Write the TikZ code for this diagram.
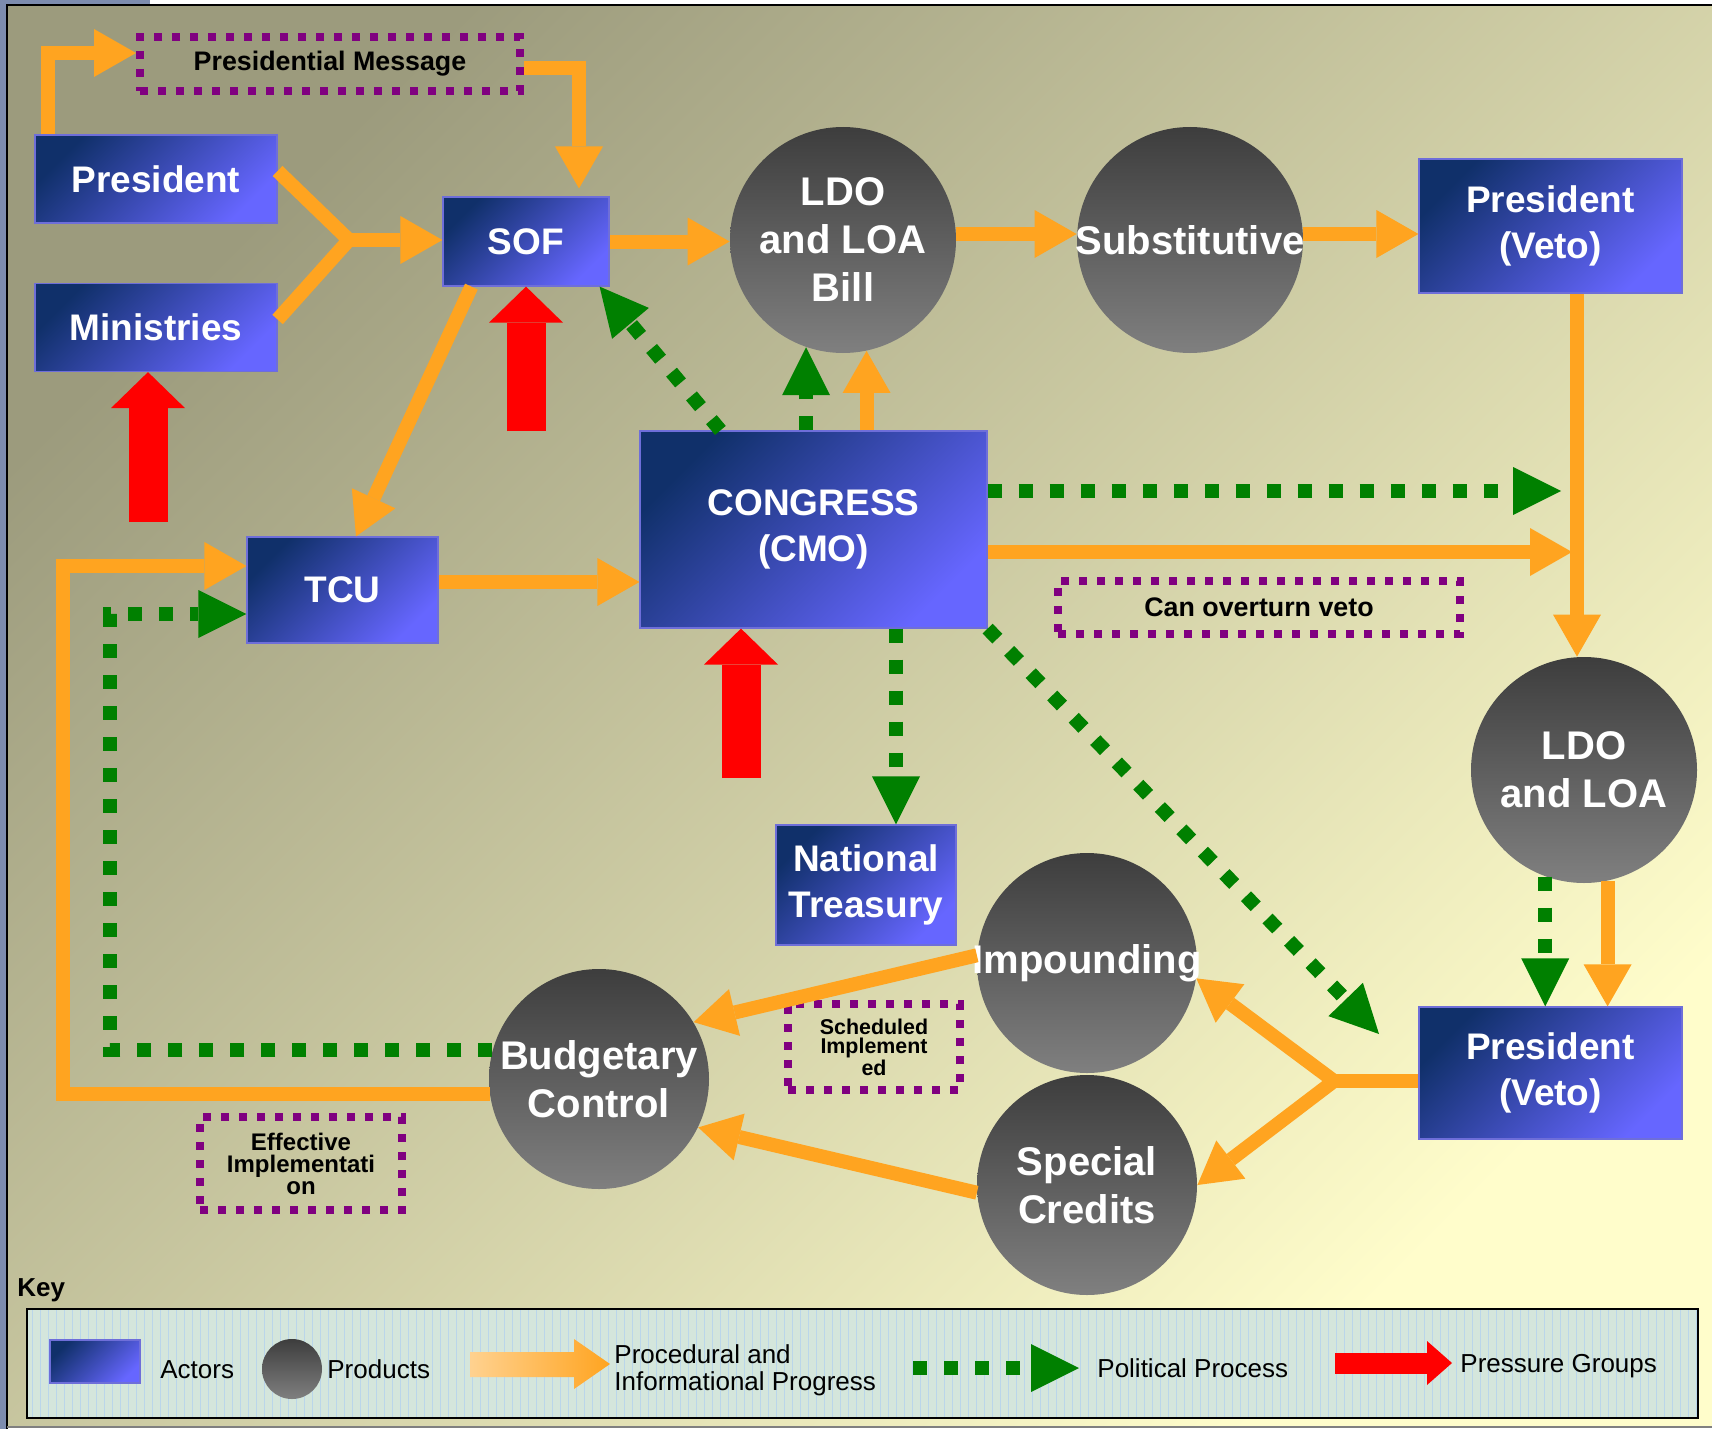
\documentclass[tikz,border=0pt]{standalone}
\usepackage{fontspec}
\setmainfont{Liberation Sans}
\usetikzlibrary{arrows.meta}

\definecolor{actorDark}{HTML}{10306A}
\definecolor{actorLight}{HTML}{6666FF}
\definecolor{procOrange}{HTML}{FFA420}
\definecolor{politGreen}{HTML}{008000}
\definecolor{pressRed}{HTML}{FF0000}
\definecolor{notePurple}{HTML}{800080}
\definecolor{bgDark}{HTML}{9C9B7D}
\definecolor{bgLight}{HTML}{FFFDCB}
\definecolor{keyFill}{HTML}{D4E6DC}
\definecolor{keyGrid}{HTML}{BAD6EA}
\definecolor{frameBlue}{HTML}{7D8CAE}

\begin{document}
\begin{tikzpicture}[x=0.5pt, y=-0.5pt,
  actor/.style={rectangle, inner sep=0pt, top color=actorDark, bottom color=actorLight, shading angle=45, draw=actorLight!70!gray, line width=0.6pt, text=white, align=center, font=\bfseries\fontsize{18.5}{23}\selectfont},
  prod/.style={circle, inner sep=0pt, minimum size=111pt, top color=black!76, bottom color=black!50},
  ptxt/.style={text=white, align=center, font=\bfseries\fontsize{20}{24}\selectfont},
  note/.style={draw=notePurple, line width=4pt, dash pattern=on 4pt off 5pt, inner sep=0pt, align=center, font=\bfseries\fontsize{13.4}{16}\selectfont},
  proc/.style={draw=procOrange, line width=7pt, >={Triangle[length=21pt,width=24pt,line width=0pt]}, ->},
  polit/.style={draw=politGreen, line width=7pt, dash pattern=on 7pt off 8.5pt, >={Triangle[length=24pt,width=24pt,line width=0pt]}, ->},
  press/.style={draw=pressRed, line width=19.5pt, >={Triangle[length=18pt,width=37pt,line width=0pt]}, ->},
  keytxt/.style={anchor=west, inner sep=0pt, font=\fontsize{13}{15}\selectfont}]

\useasboundingbox (0,0) rectangle (1712,1429);
% frame and background
\fill[white] (0,0) rectangle (1712,1429);
\fill[frameBlue] (0,0) rectangle (7,1429);
\fill[frameBlue] (0,0) rectangle (150,5);
\shade[top color=bgDark, bottom color=bgLight, shading angle=45] (7,5) rectangle (1712,1427);
\draw[black, line width=1.2pt] (7,1429) -- (7,5) -- (1712,5);
\draw[gray, line width=0.8pt] (7,1427) -- (1712,1427);

% actors
\node[actor, minimum width=121pt, minimum height=44pt] (pres) at (156,179) {President};
\node[actor, minimum width=121pt, minimum height=44pt] (mins) at (156,327.5) {Ministries};
\node[actor, minimum width=83pt, minimum height=44.5pt] (sof) at (526,241.5) {SOF};
\node[actor, minimum width=131.5pt, minimum height=67pt] (vetoA) at (1550.5,226) {President\\(Veto)};
\node[actor, minimum width=173.5pt, minimum height=98.5pt] (cmo) at (813.5,529.5) {CONGRESS\\(CMO)};
\node[actor, minimum width=95.5pt, minimum height=53pt] (tcu) at (342.5,590) {TCU};
\node[actor, minimum width=90pt, minimum height=60pt] (trs) at (866,885) {National\\Treasury};
\node[actor, minimum width=131.5pt, minimum height=66pt] (vetoB) at (1550.5,1073) {President\\(Veto)};

% products
\node[prod, minimum size=113pt, label={[ptxt]center:LDO\\and LOA\\Bill}] (ldob) at (843,240) {};
\node[prod, minimum size=113pt, label={[ptxt]center:Substitutive}] (subst) at (1190,240) {};
\node[prod, minimum size=113pt, label={[ptxt]center:LDO\\and LOA}] (ldo) at (1584,770) {};
\node[prod, minimum size=110pt, label={[ptxt]center:Impounding}] (imp) at (1087,963) {};
\node[prod, minimum size=110pt, label={[ptxt]center:Special\\Credits}] (spc) at (1087,1185) {};
\node[prod, minimum size=110pt, label={[ptxt]center:Budgetary\\Control}] (bud) at (599,1079) {};

% notes
\node[note, minimum width=190pt, minimum height=27pt] (msg) at (330,64) {Presidential Message};
\node[note, minimum width=201pt, minimum height=26.5pt] (vetoNote) at (1259,607.5) {Can overturn veto};
\node[note, minimum width=86pt, minimum height=43pt, font=\bfseries\fontsize{10.7}{9.5}\selectfont] (sched) at (874,1047) {Scheduled\\Implement\\ed};
\node[note, minimum width=101pt, minimum height=46.5pt, font=\bfseries\fontsize{12}{11}\selectfont] (eff) at (301,1163.5) {Effective\\Implementati\\on};

% procedure
\draw[proc] ([xshift=7pt]pres.north west) |- ([yshift=5.5pt]msg.west);
\draw[proc] ([yshift=-2pt]msg.east) -| ([xshift=26.5pt,yshift=4pt]sof.north);
\coordinate (jA) at (349,240);
\draw[proc, -] ([yshift=4pt]pres.east) -- (jA) -- ([yshift=4pt]mins.east);
\draw[proc] (jA) -- (jA -| sof.west);
\draw[proc] (sof.east) -- (sof.east -| ldob.west);
\draw[proc] ([yshift=3pt]ldob.east) -- ([yshift=3pt]subst.west);
\draw[proc] ([yshift=3pt]subst.east) -- ([yshift=3pt]subst.east -| vetoA.west);
\draw[proc] ([xshift=14.5pt]sof.south west) -- ([xshift=6.75pt]tcu.north);
\draw[proc] ([yshift=4pt]tcu.east) -- ([yshift=4pt]tcu.east -| cmo.west);
\draw[proc] (ldob.282 |- cmo.north) -- (ldob.282);
\coordinate (oTip) at (1572,552);
\draw[proc] (cmo.east |- oTip) -- (oTip);
\draw[proc] ([xshift=13.25pt]vetoA.south) -- ([xshift=13.25pt]vetoA.south |- ldo.north);
\draw[proc] (ldo.282) -- (ldo.282 |- vetoB.north);
\coordinate (jB) at (1334,1081);
\draw[proc, <->] (imp.352) -- (jB) -- (spc.east);
\draw[proc, -] ([yshift=-4pt]vetoB.west) -- (jB);
\draw[proc] (imp.176) -- (bud.31);
\draw[proc] (spc.184) -- (bud.334);
\coordinate (cL) at (63,0);
\draw[proc] (bud.188) -- (bud.188 -| cL) |- ([yshift=12pt]tcu.west);

% politics
\draw[polit] ([xshift=40.5pt]cmo.north west) -- ([xshift=-5pt]sof.south east);
\draw[polit] (ldob.251 |- cmo.north) -- (ldob.251);
\coordinate (gTip) at (1561,491);
\draw[polit] (cmo.east |- gTip) -- (gTip);
\draw[polit] ([xshift=15pt]trs.north |- cmo.south) -- ([xshift=15pt]trs.north);
\coordinate (gTipB) at (1379,1034);
\draw[polit] (cmo.south east) -- (gTipB);
\draw[polit] (ldo.250) -- (ldo.250 |- vetoB.north);
\coordinate (cG) at (110,0);
\draw[polit] (bud.165) -- (bud.165 -| cG) |- ([yshift=-12pt]tcu.west);

% pressure groups
\coordinate (pgM) at (148,522);
\coordinate (pgS) at (526,431);
\coordinate (pgC) at (741,778);
\draw[press] (pgM) -- (pgM |- mins.south);
\draw[press] (pgS) -- (sof.south);
\draw[press] (pgC) -- (pgC |- cmo.south);

% key
\node[anchor=west, inner sep=0pt, font=\bfseries\fontsize{13}{15}\selectfont] (keyT) at (17,1290) {Key};
\fill[keyFill] (27,1309) rectangle (1698,1418);
\draw[keyGrid, line width=0.3pt, step=8] (27,1309) grid (1698,1418);
\node[draw=black, line width=1.2pt, minimum width=835.5pt, minimum height=54.5pt, inner sep=0pt] (keyBox) at (862.5,1363.5) {};
\node[actor, minimum width=45pt, minimum height=21.5pt] (kActor) at (95,1361.5) {};
\node[keytxt] (kActorT) at (160,1370) {Actors};
\node[prod, minimum size=30pt] (kProd) at (292,1369) {};
\node[keytxt] (kProdT) at (327,1369) {Products};
\shade[left color=procOrange!50!white, right color=procOrange] (470,1352) -- (574,1352) -- (574,1339) -- (610,1364) -- (574,1389) -- (574,1377) -- (470,1377) -- cycle;
\node[keytxt, align=left, font=\fontsize{13}{13.5}\selectfont] (kProcT) at (614,1370) {Procedural and\\Informational Progress};
\coordinate (kPolA) at (913,1368);
\coordinate (kPolB) at (1079,1368);
\draw[polit] (kPolA) -- (kPolB);
\node[keytxt] (kPolT) at (1097,1368) {Political Process};
\coordinate (kPrA) at (1335,1363);
\coordinate (kPrB) at (1452,1363);
\draw[draw=pressRed, line width=10.5pt, -{Triangle[length=12.5pt,width=22pt,line width=0pt]}] (kPrA) -- (kPrB);
\node[keytxt] (kPrT) at (1460,1366) {Pressure Groups};
\end{tikzpicture}
\end{document}
